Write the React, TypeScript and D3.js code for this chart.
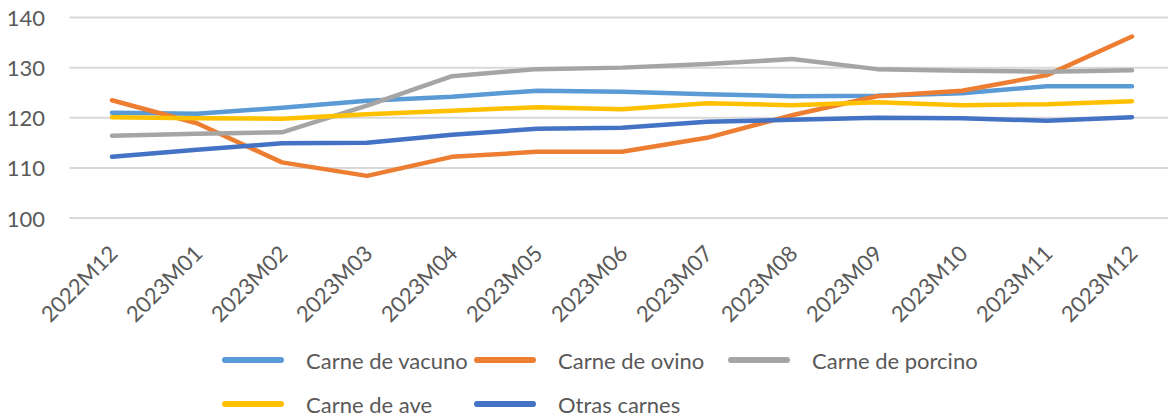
import React from "react";
import * as d3 from "d3";

const categories = ["2022M12","2023M01","2023M02","2023M03","2023M04","2023M05","2023M06","2023M07","2023M08","2023M09","2023M10","2023M11","2023M12"];
const vacuno = [121.0, 120.8, 122.0, 123.4, 124.2, 125.4, 125.2, 124.7, 124.3, 124.4, 124.9, 126.3, 126.3];
const ovino = [123.5, 118.9, 111.1, 108.4, 112.2, 113.2, 113.2, 116.0, 120.5, 124.3, 125.4, 128.5, 136.2];
const porcino = [116.4, 116.8, 117.1, 122.4, 128.3, 129.7, 130.0, 130.7, 131.7, 129.7, 129.4, 129.2, 129.5];
const ave = [120.1, 119.9, 119.8, 120.7, 121.4, 122.1, 121.7, 122.9, 122.5, 123.1, 122.5, 122.7, 123.3];
const otras = [112.2, 113.6, 114.9, 115.0, 116.6, 117.8, 118.0, 119.2, 119.6, 120.0, 119.9, 119.4, 120.1];
const yTicks = [100, 110, 120, 130, 140];

const series = [
  { name: "Carne de vacuno", values: vacuno, color: "#5B9BD5" },
  { name: "Carne de ovino", values: ovino, color: "#ED7D31" },
  { name: "Carne de porcino", values: porcino, color: "#A5A5A5" },
  { name: "Carne de ave", values: ave, color: "#FFC000" },
  { name: "Otras carnes", values: otras, color: "#4472C4" },
];

const W = 1168, H = 416;
const FONT = "Lato, 'Open Sans', sans-serif";
const TXT = "#595959";

export default function App() {
  const x = d3.scalePoint<string>().domain(categories).range([69.5, 1174.5]).padding(0.5);
  const y = d3.scaleLinear().domain([100, 140]).range([218, 17.5]);
  const line = d3.line<number>().x((_, i) => x(categories[i]) as number).y((d) => y(d));
  const legendCols = [225, 477, 731];
  const legendRows = [360, 404];
  return (
    <svg width={W} height={H} style={{ position: "absolute", left: 0, top: 0, background: "#fff" }}>
      {yTicks.map((t) => (
        <g key={t}>
          <line x1={69.5} x2={1174.5} y1={y(t)} y2={y(t)} stroke="#D9D9D9" strokeWidth={2} />
          <text x={45} y={y(t)} textAnchor="end" dominantBaseline="central" fontFamily={FONT} fontSize={22} fill={TXT}>{t}</text>
        </g>
      ))}
      {series.map((s) => (
        <path key={s.name} d={line(s.values) || ""} fill="none" stroke={s.color} strokeWidth={4.5} strokeLinecap="round" strokeLinejoin="round" />
      ))}
      {categories.map((c) => (
        <text key={c} transform={`translate(${(x(c) as number) + 1},249) rotate(-45)`} textAnchor="end" dominantBaseline="central" fontFamily={FONT} fontSize={22} fill={TXT}>{c}</text>
      ))}
      {series.map((s, i) => {
        const lx = legendCols[i % 3];
        const ly = legendRows[Math.floor(i / 3)];
        return (
          <g key={s.name}>
            <line x1={lx} x2={lx + 56} y1={ly} y2={ly} stroke={s.color} strokeWidth={6} strokeLinecap="round" />
            <text x={lx + 81} y={ly} dominantBaseline="central" fontFamily={FONT} fontSize={22} fill={TXT}>{s.name}</text>
          </g>
        );
      })}
    </svg>
  );
}
